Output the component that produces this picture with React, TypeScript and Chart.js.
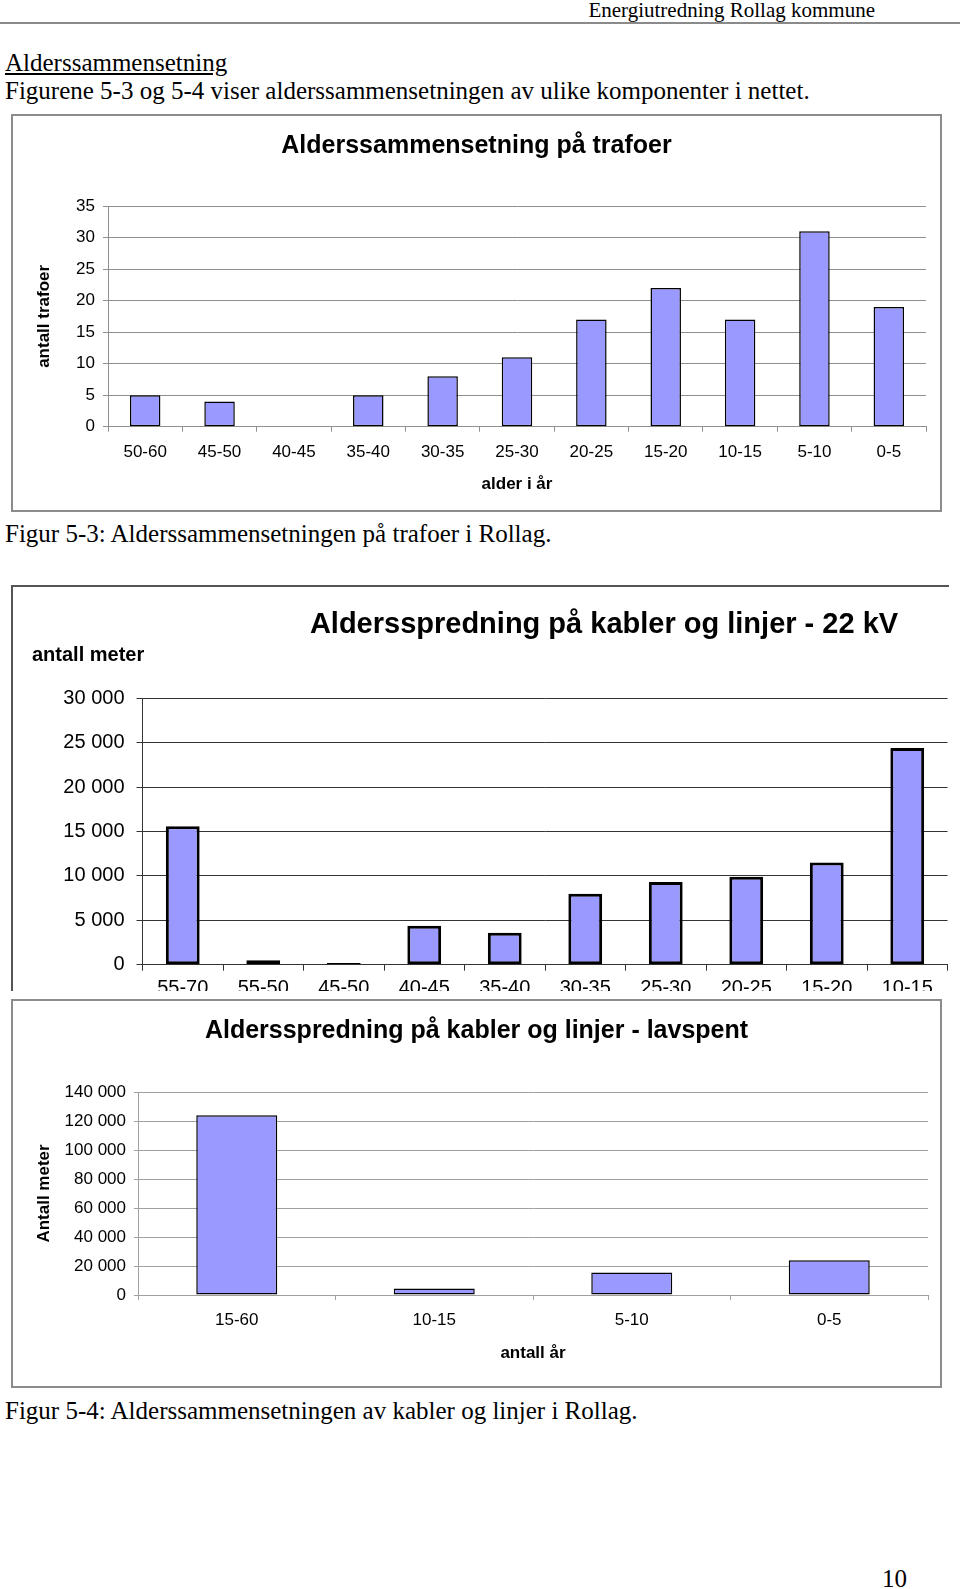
import React, { useEffect, useRef } from 'react';
import { Chart, registerables } from 'chart.js';

Chart.register(...registerables);

// ---- data ----
const trafoCategories = ['50-60', '45-50', '40-45', '35-40', '30-35', '25-30', '20-25', '15-20', '10-15', '5-10', '0-5'];
const trafoValues = [5, 4, 0, 5, 8, 11, 17, 22, 17, 31, 19];

const hv22Categories = ['55-70', '55-50', '45-50', '40-45', '35-40', '30-35', '25-30', '20-25', '15-20', '10-15'];
const hv22Values = [15600, 500, 200, 4400, 3600, 8000, 9300, 9900, 11500, 24400];

const lvCategories = ['15-60', '10-15', '5-10', '0-5'];
const lvValues = [124000, 4500, 15500, 24000];

const trafoTicks = { min: 0, max: 35, step: 5 };
const hv22Ticks = { min: 0, max: 30000, step: 5000 };
const lvTicks = { min: 0, max: 140000, step: 20000 };

// ---- styles ----
const SANS = '"Liberation Sans", Arial, Helvetica, sans-serif';
const SERIF = '"Liberation Serif", "Times New Roman", serif';
const BAR_FILL = '#9999FF';

function fmtThousands(v: number | string) {
  return String(v).replace(/\B(?=(\d{3})+(?!\d))/g, ' ');
}

// an invisible right-hand axis used only to reserve space (keeps titles centred on the whole canvas)
function spacerAxis(width: number) {
  return {
    position: 'right',
    display: true,
    ticks: { display: false },
    grid: { display: false },
    border: { display: false },
    afterFit: (s: any) => {
      s.width = width;
    },
  };
}

function ChartCanvas({ width, height, makeConfig }: { width: number; height: number; makeConfig: () => any }) {
  const ref = useRef<HTMLCanvasElement | null>(null);
  useEffect(() => {
    const chart = new Chart(ref.current as HTMLCanvasElement, makeConfig());
    return () => chart.destroy();
  }, []);
  return <canvas ref={ref} width={width} height={height} style={{ display: 'block', width, height }} />;
}

const trafoConfig = () => ({
  type: 'bar',
  data: {
    labels: trafoCategories,
    datasets: [
      {
        data: trafoValues,
        backgroundColor: BAR_FILL,
        borderColor: '#000',
        borderWidth: 1.5,
        borderSkipped: false,
        categoryPercentage: 0.41,
        barPercentage: 1,
      },
    ],
  },
  options: {
    responsive: false,
    animation: false,
    layout: { padding: 0 },
    plugins: {
      legend: { display: false },
      tooltip: { enabled: false },
      title: {
        display: true,
        text: 'Alderssammensetning på trafoer',
        color: '#000',
        font: { family: SANS, size: 25, weight: 'bold', lineHeight: 1.2 },
        padding: { top: 15, bottom: 45 },
      },
    },
    scales: {
      x: {
        grid: { drawOnChartArea: false, color: '#8f8f8f', tickLength: 5, offset: true },
        border: { color: '#8f8f8f' },
        ticks: { color: '#000', font: { family: SANS, size: 17 }, padding: 10, maxRotation: 0, autoSkip: false },
        title: {
          display: true,
          text: 'alder i år',
          color: '#000',
          font: { family: SANS, size: 17, weight: 'bold', lineHeight: 1.2 },
          padding: { top: 0, bottom: 15 },
        },
        afterFit: (s: any) => {
          s.height = 83.3;
        },
      },
      y: {
        min: trafoTicks.min,
        max: trafoTicks.max,
        ticks: { stepSize: trafoTicks.step, color: '#000', font: { family: SANS, size: 17 }, padding: 8 },
        grid: { color: '#8f8f8f', tickLength: 5 },
        border: { color: '#8f8f8f' },
        title: {
          display: true,
          text: 'antall trafoer',
          color: '#000',
          font: { family: SANS, size: 17, weight: 'bold', lineHeight: 1.2 },
          padding: { top: 21, bottom: 0 },
        },
        afterFit: (s: any) => {
          s.width = 95;
        },
      },
      yRight: spacerAxis(14),
    },
  },
});

const HV_W = 1163;
const hv22Config = () => ({
  type: 'bar',
  data: {
    labels: hv22Categories,
    datasets: [
      {
        data: hv22Values,
        backgroundColor: BAR_FILL,
        borderColor: '#000',
        borderWidth: 3,
        borderSkipped: false,
        categoryPercentage: 0.42,
        barPercentage: 1,
      },
    ],
  },
  options: {
    responsive: false,
    animation: false,
    layout: { padding: { left: 19, right: 0, top: 0, bottom: 0 } },
    plugins: {
      legend: { display: false },
      tooltip: { enabled: false },
      title: {
        display: true,
        text: 'Aldersspredning på kabler og linjer - 22 kV',
        color: '#000',
        font: { family: SANS, size: 29, weight: 'bold', lineHeight: 1.2 },
        padding: { top: 20.6, bottom: 0 },
      },
      subtitle: {
        display: true,
        text: 'antall meter',
        align: 'start',
        color: '#000',
        font: { family: SANS, size: 20, weight: 'bold', lineHeight: 1.2 },
        padding: { top: 0.6, bottom: 31.3 },
      },
    },
    scales: {
      x: {
        grid: { drawOnChartArea: false, color: '#333', tickLength: 6, offset: true },
        border: { color: '#333' },
        ticks: { color: '#000', font: { family: SANS, size: 20 }, padding: 6, maxRotation: 0, autoSkip: false },
        afterFit: (s: any) => {
          s.height = 62.3;
        },
      },
      y: {
        min: hv22Ticks.min,
        max: hv22Ticks.max,
        ticks: {
          stepSize: hv22Ticks.step,
          color: '#000',
          font: { family: SANS, size: 20 },
          padding: 12,
          callback: (v: any) => fmtThousands(v),
        },
        grid: { color: '#333', tickLength: 6 },
        border: { color: '#333' },
        afterFit: (s: any) => {
          s.width = 110.5;
        },
      },
      yRight: spacerAxis(HV_W - 934.5),
    },
  },
});

const lvConfig = () => ({
  type: 'bar',
  data: {
    labels: lvCategories,
    datasets: [
      {
        data: lvValues,
        backgroundColor: BAR_FILL,
        borderColor: '#000',
        borderWidth: 1.5,
        borderSkipped: false,
        categoryPercentage: 0.41,
        barPercentage: 1,
      },
    ],
  },
  options: {
    responsive: false,
    animation: false,
    layout: { padding: 0 },
    plugins: {
      legend: { display: false },
      tooltip: { enabled: false },
      title: {
        display: true,
        text: 'Aldersspredning på kabler og linjer - lavspent',
        color: '#000',
        font: { family: SANS, size: 25, weight: 'bold', lineHeight: 1.2 },
        padding: { top: 15, bottom: 46 },
      },
    },
    scales: {
      x: {
        grid: { drawOnChartArea: false, color: '#a0a0a0', tickLength: 5, offset: true },
        border: { color: '#a0a0a0' },
        ticks: { color: '#000', font: { family: SANS, size: 17 }, padding: 10, maxRotation: 0, autoSkip: false },
        title: {
          display: true,
          text: 'antall år',
          color: '#000',
          font: { family: SANS, size: 17, weight: 'bold', lineHeight: 1.2 },
          padding: { top: 0, bottom: 22.8 },
        },
        afterFit: (s: any) => {
          s.height = 91;
        },
      },
      y: {
        min: lvTicks.min,
        max: lvTicks.max,
        ticks: {
          stepSize: lvTicks.step,
          color: '#000',
          font: { family: SANS, size: 17 },
          padding: 8,
          callback: (v: any) => fmtThousands(v),
        },
        grid: { color: '#a0a0a0', tickLength: 4 },
        border: { color: '#a0a0a0' },
        title: {
          display: true,
          text: 'Antall meter',
          color: '#000',
          font: { family: SANS, size: 17, weight: 'bold', lineHeight: 1.2 },
          padding: { top: 20.8, bottom: 0 },
        },
        afterFit: (s: any) => {
          s.width = 125;
        },
      },
      yRight: spacerAxis(12),
    },
  },
});

const serifText = (size: number): React.CSSProperties => ({
  position: 'absolute',
  fontFamily: SERIF,
  fontSize: size,
  lineHeight: '30px',
  whiteSpace: 'nowrap',
  color: '#000',
});

export default function App() {
  return (
    <div style={{ position: 'absolute', left: 0, top: 0, width: 960, height: 1589, background: '#fff', overflow: 'hidden' }}>
      <div style={{ ...serifText(21), left: 0, width: 875, textAlign: 'right', top: -5 }}>Energiutredning Rollag kommune</div>
      <div style={{ position: 'absolute', left: 0, top: 22, width: 960, height: 2, background: '#8a8a8a' }} />

      <div style={{ ...serifText(25), left: 5, top: 48, textDecoration: 'underline' }}>Alderssammensetning</div>
      <div style={{ ...serifText(25), left: 5, top: 76 }}>
        Figurene 5-3 og 5-4 viser alderssammensetningen av ulike komponenter i nettet.
      </div>

      <div
        style={{
          position: 'absolute',
          left: 11,
          top: 114,
          width: 927,
          height: 394,
          border: '2px solid #8c8c8c',
          background: '#fff',
        }}
      >
        <ChartCanvas width={927} height={394} makeConfig={trafoConfig} />
      </div>

      <div style={{ ...serifText(25), left: 5, top: 519 }}>Figur 5-3: Alderssammensetningen på trafoer i Rollag.</div>

      <div style={{ position: 'absolute', left: 11, top: 585, width: 938, height: 406, overflow: 'hidden' }}>
        <div
          style={{
            borderTop: '2px solid #555',
            borderLeft: '2px solid #555',
            width: HV_W,
            height: 440,
            background: '#fff',
          }}
        >
          <ChartCanvas width={HV_W} height={440} makeConfig={hv22Config} />
        </div>
      </div>

      <div
        style={{
          position: 'absolute',
          left: 11,
          top: 999,
          width: 927,
          height: 385,
          border: '2px solid #8c8c8c',
          background: '#fff',
        }}
      >
        <ChartCanvas width={927} height={385} makeConfig={lvConfig} />
      </div>

      <div style={{ ...serifText(25), left: 5, top: 1396 }}>Figur 5-4: Alderssammensetningen av kabler og linjer i Rollag.</div>

      <div style={{ ...serifText(25), left: 0, width: 907, textAlign: 'right', top: 1564 }}>10</div>
    </div>
  );
}
